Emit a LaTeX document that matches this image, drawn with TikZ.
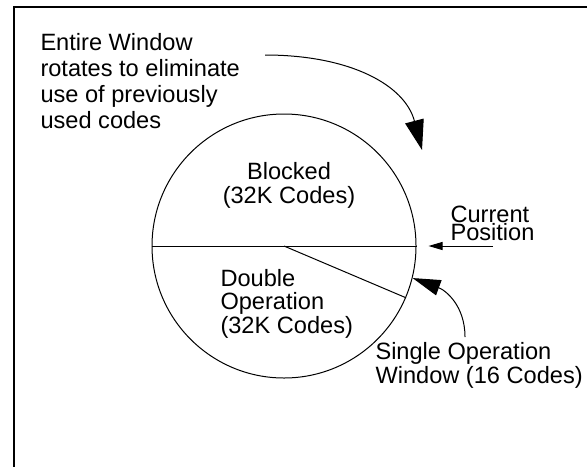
\documentclass[tikz,border=0pt]{standalone}
\usepackage{fontspec}
\setmainfont{Liberation Sans}
\usetikzlibrary{arrows.meta}

\tikzset{
  txt/.style={inner sep=0pt, anchor=base west, align=left,
    font=\fontsize{11.8}{11.75}\selectfont},
  bigtip/.style={-{Triangle[length=15pt,width=9.5pt]}},
  midtip/.style={-{Triangle[length=14pt,width=8pt]}},
  smalltip/.style={-{Triangle[length=7pt,width=4pt]}}
}

\begin{document}
\begin{tikzpicture}[x=0.5pt,y=-0.5pt,line width=0.5pt]
  \useasboundingbox (0,0) rectangle (587,466);

  % frame
  \draw [line width=1pt] (14,7) rectangle (640,520);

  % code window
  \node (win) [circle,draw,minimum size=132pt,inner sep=0pt] at (284,246) {};
  \draw (win.west) -- (win.east);
  \draw (win.center) -- (win.-23.3);

  % texts (placed at the baseline of their last line)
  \node (entire) [txt,font=\fontsize{11.8}{13}\selectfont] at (40,128)
    {Entire Window\\rotates to eliminate\\use of previously\\used codes};
  \node (blocked) [txt,anchor=base,align=center] at (289,203)
    {Blocked\\(32K Codes)};
  \node (double) [txt] at (220,333) {Double\\Operation\\(32K Codes)};
  \node (current) [txt,font=\fontsize{11.8}{9}\selectfont] at (450,240)
    {Current\\Position};
  \node (single) [txt] at (375,383) {Single Operation\\Window (16 Codes)};

  \coordinate (rot) at (265,55);
  \coordinate (rottip) at (422,150);
  \draw [bigtip] (rot) .. controls (350,55) and (405,85) .. (rottip);

  \coordinate (cur) at (493,246);
  \draw [smalltip] (cur) -- ([xshift=6pt]win.east);

  \coordinate (sgl) at (465,337);
  \draw [midtip] (sgl) .. controls (465,305) and (445,290) .. (win.-14);
\end{tikzpicture}
\end{document}
